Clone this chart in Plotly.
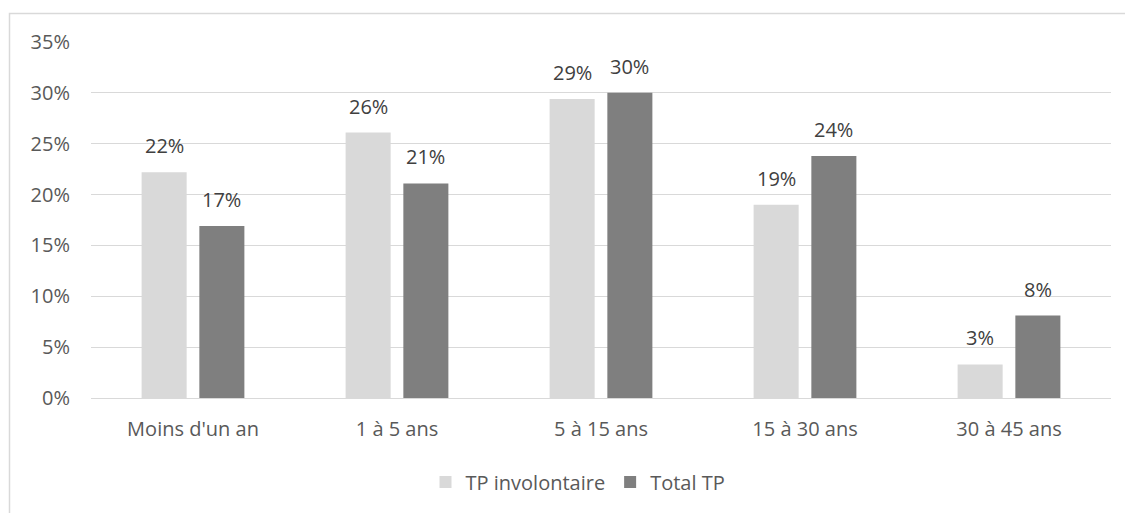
import plotly.graph_objects as go

categories = ["Moins d'un an", "1 à 5 ans", "5 à 15 ans", "15 à 30 ans", "30 à 45 ans"]
tp_involontaire = [22.2, 26.1, 29.4, 19.0, 3.3]
total_tp = [16.9, 21.1, 30.0, 23.8, 8.1]
series_names = ["TP involontaire", "Total TP"]
colors = ["#d9d9d9", "#7f7f7f"]
tick_vals = [0, 5, 10, 15, 20, 25, 30, 35]
tick_text = [f"{v}%" for v in tick_vals]

W, H = 1125, 513
L, R, T, B = 91, 14, 42, 115
FONT = "Open Sans"
TXT = "#595959"
FS = 20

fig = go.Figure()
for name, vals, col in zip(series_names, [tp_involontaire, total_tp], colors):
    fig.add_trace(go.Bar(x=categories, y=vals, name=name, marker_color=col,
                         marker_line_width=0))

plot_w = W - L - R
slot = plot_w / len(categories) * (1 - 0.434) / 2
annotations = []
for i, vals in enumerate([tp_involontaire, total_tp]):
    shift = (i - 0.5) * slot
    for c, v in zip(categories, vals):
        annotations.append(dict(x=c, y=v, xref="x", yref="y", text=f"{round(v):.0f}%",
                                showarrow=False, xshift=shift, yanchor="bottom", yshift=11,
                                font=dict(family=FONT, size=FS, color="#404040")))

plot_h = H - T - B
x0 = (9.5 - L) / plot_w
y1 = 1 + (T - 13.5) / plot_h
fig.update_layout(
    width=W, height=H,
    margin=dict(l=L, r=R, t=T, b=B),
    paper_bgcolor="white", plot_bgcolor="white",
    barmode="group", bargap=0.434, bargroupgap=0.22,
    font=dict(family=FONT, size=FS, color=TXT),
    showlegend=True,
    legend=dict(orientation="h", x=(578 - L) / plot_w, xanchor="center",
                y=(398 - 482) / plot_h, yanchor="middle",
                font=dict(family=FONT, size=FS, color=TXT),
                itemsizing="constant", bgcolor="rgba(0,0,0,0)"),
    annotations=annotations,
    shapes=[dict(type="rect", xref="paper", yref="paper", x0=x0, x1=1.05, y0=-0.5, y1=y1,
                 line=dict(color="#d9d9d9", width=1.5), fillcolor="rgba(0,0,0,0)", layer="below")],
)
fig.update_yaxes(range=[0, 35], tickvals=tick_vals, ticktext=tick_text,
                 showgrid=True, gridcolor="#d9d9d9", gridwidth=1.3,
                 zeroline=True, zerolinecolor="#d9d9d9", zerolinewidth=1.3,
                 showline=False, ticks="", ticklabelstandoff=20,
                 tickfont=dict(family=FONT, size=FS, color=TXT))
fig.update_xaxes(showgrid=False, showline=False, ticks="", ticklabelstandoff=17,
                 tickfont=dict(family=FONT, size=FS, color=TXT))

fig.write_html("out.html", config={"displayModeBar": False},
               post_script="document.body.style.margin='0';document.body.style.overflow='hidden';")
